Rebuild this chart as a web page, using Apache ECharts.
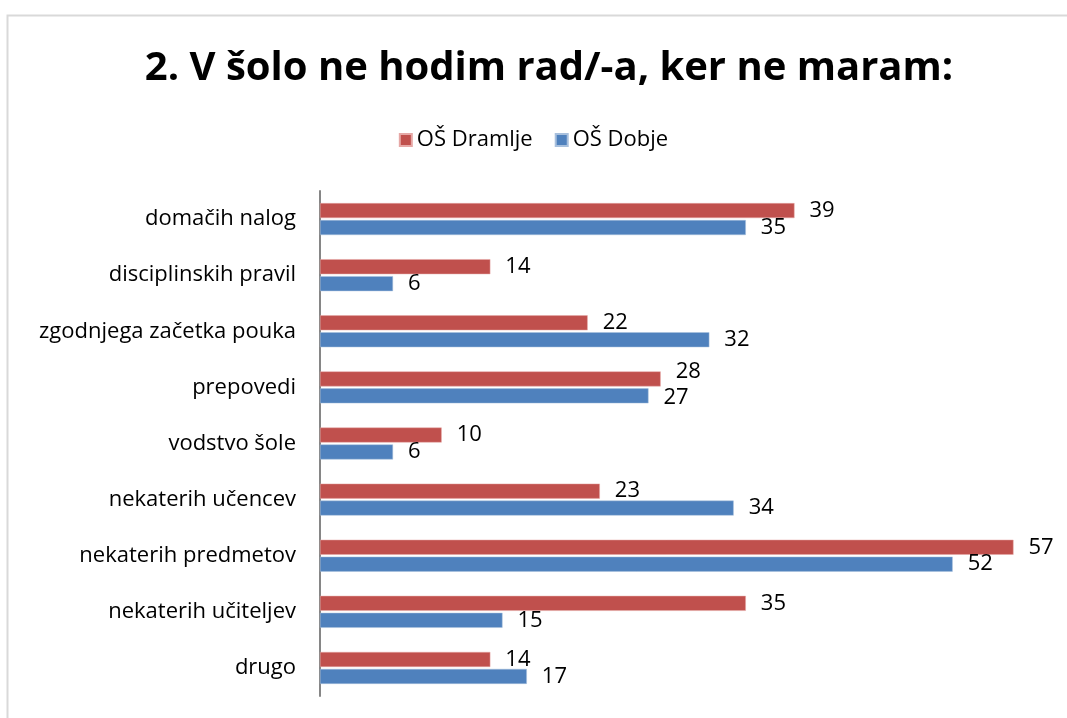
<!DOCTYPE html>
<html><head><meta charset="utf-8">
<script src="https://cdn.jsdelivr.net/npm/echarts@6/dist/echarts.min.js"></script>
<style>html,body{margin:0;padding:0;background:#fff}#c{width:1067px;height:718px}</style>
</head><body><div id="c"></div>
<script>
const categories = ["domačih nalog","disciplinskih pravil","zgodnjega začetka pouka","prepovedi","vodstvo šole","nekaterih učencev","nekaterih predmetov","nekaterih učiteljev","drugo"];
const dramlje = [39,14,22,28,10,23,57,35,14];
const dobje = [35,6,32,27,6,34,52,15,17];
const seriesNames = ["OŠ Dramlje","OŠ Dobje"];
const FONT = "Open Sans";
const chart = echarts.init(document.getElementById('c'), null, {renderer:'canvas'});
const lbl = {show:true, position:'right', distance:15, fontFamily:FONT, fontSize:22, color:'#000'};
// avoid label collisions like Excel does (when the two values are very close)
const redData = dramlje.map((v,i)=> Math.abs(v-dobje[i])<=2 ? {value:v, label:{offset:[0,-7]}} : v);
const blueData = dobje.map((v,i)=> Math.abs(v-dramlje[i])<=2 ? {value:v, label:{offset:[0,2]}} : v);
chart.setOption({
  animation:false,
  graphic:[{type:'rect', shape:{x:7.5,y:15.5,width:1100,height:800}, style:{fill:'none', stroke:'#d9d9d9', lineWidth:2}, silent:true}],
  title:{text:"2. V šolo ne hodim rad/-a, ker ne maram:", left:544, textAlign:'center', top:44,
    textStyle:{fontFamily:FONT, fontWeight:'bold', fontSize:40, color:'#000'}},
  legend:{data:seriesNames, top:124, left:'center', itemWidth:12, itemHeight:12, itemGap:22, icon:'rect',
    textStyle:{fontFamily:FONT, fontSize:22, color:'#000'}},
  grid:{left:320, top:191, width:730, bottom:22, containLabel:false},
  xAxis:{type:'value', min:0, max:60, show:false, splitLine:{show:false}},
  yAxis:{type:'category', data:categories, inverse:true,
    axisLine:{lineStyle:{color:'#868686', width:2}}, axisTick:{show:false},
    axisLabel:{fontFamily:FONT, fontSize:22, color:'#000', margin:24}},
  series:[
    {name:seriesNames[0], type:'bar', data:redData, barWidth:15, barGap:'13%', itemStyle:{color:'#C0504D', borderColor:'#e6a8a6', borderWidth:0.5}, label:lbl},
    {name:seriesNames[1], type:'bar', data:blueData, barWidth:15, itemStyle:{color:'#4F81BD', borderColor:'#a8c0dd', borderWidth:0.5}, label:lbl}
  ]
});
</script></body></html>
